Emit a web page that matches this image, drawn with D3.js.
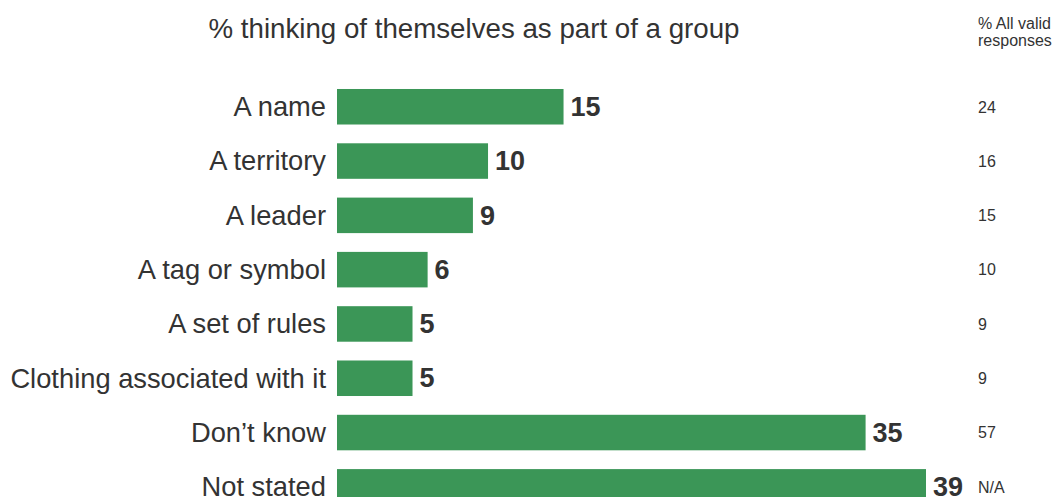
<!DOCTYPE html>
<html>
<head>
<meta charset="utf-8">
<script src="https://cdn.jsdelivr.net/npm/d3@7/dist/d3.min.js"></script>
<style>
  html, body { margin: 0; padding: 0; background: #fff; }
  svg { display: block; font-family: "Liberation Sans", Arial, sans-serif; }
</style>
</head>
<body>
<svg id="chart" width="1056" height="497"></svg>
<script>
// Survey responses: share thinking of themselves as part of a group, by reason
const categories = ["A name", "A territory", "A leader", "A tag or symbol",
  "A set of rules", "Clothing associated with it", "Don\u2019t know", "Not stated"];
const percentAll = [15, 10, 9, 6, 5, 5, 35, 39];
const percentValid = ["24", "16", "15", "10", "9", "9", "57", "N/A"];

const title = "% thinking of themselves as part of a group";
const sideHeader = ["% All valid", "responses"];

const width = 1056, height = 497;
const barColor = "#3b9657";
const textColor = "#333333";

const svg = d3.select("#chart");

const x = d3.scaleLinear().domain([0, 39]).range([337, 926]);
const step = 54.3;
const y = d3.scaleBand()
  .domain(categories)
  .range([79.6, 79.6 + step * categories.length])
  .paddingInner(0.346)
  .paddingOuter(0.173);

// Title
svg.append("text")
  .attr("x", 474).attr("y", 38)
  .attr("text-anchor", "middle")
  .attr("font-size", 27.7)
  .attr("fill", textColor)
  .text(title);

// Side column header
svg.append("text")
  .attr("x", 978).attr("y", 29)
  .attr("font-size", 16)
  .attr("fill", textColor)
  .selectAll("tspan").data(sideHeader).join("tspan")
  .attr("x", 978).attr("dy", (d, i) => i === 0 ? 0 : 17)
  .text(d => d);

const rows = svg.append("g").selectAll("g")
  .data(categories.map((c, i) => ({ cat: c, v: percentAll[i], side: percentValid[i] })))
  .join("g");

// Bars
rows.append("rect")
  .attr("x", x(0))
  .attr("y", d => y(d.cat))
  .attr("width", d => x(d.v) - x(0))
  .attr("height", y.bandwidth())
  .attr("fill", barColor);

// Category labels (y axis)
const yAxis = d3.axisLeft(y).tickSize(0).tickPadding(0);
const axisG = svg.append("g")
  .attr("transform", `translate(${x(0) - 11},0)`)
  .call(yAxis);
axisG.select(".domain").remove();
axisG.selectAll("text")
  .attr("font-size", 27.3)
  .attr("font-family", "'Liberation Sans', Arial, sans-serif")
  .attr("fill", textColor)
  .attr("dy", "0.34em");

// Value labels
rows.append("text")
  .attr("x", d => x(d.v) + 7)
  .attr("y", d => y(d.cat) + y.bandwidth() / 2)
  .attr("dy", "0.34em")
  .attr("font-size", 27)
  .attr("font-weight", "bold")
  .attr("fill", textColor)
  .text(d => d.v);

// Side column values
rows.append("text")
  .attr("x", 978)
  .attr("y", d => y(d.cat) + y.bandwidth() / 2)
  .attr("dy", "0.36em")
  .attr("font-size", 16)
  .attr("fill", textColor)
  .text(d => d.side);
</script>
</body>
</html>
